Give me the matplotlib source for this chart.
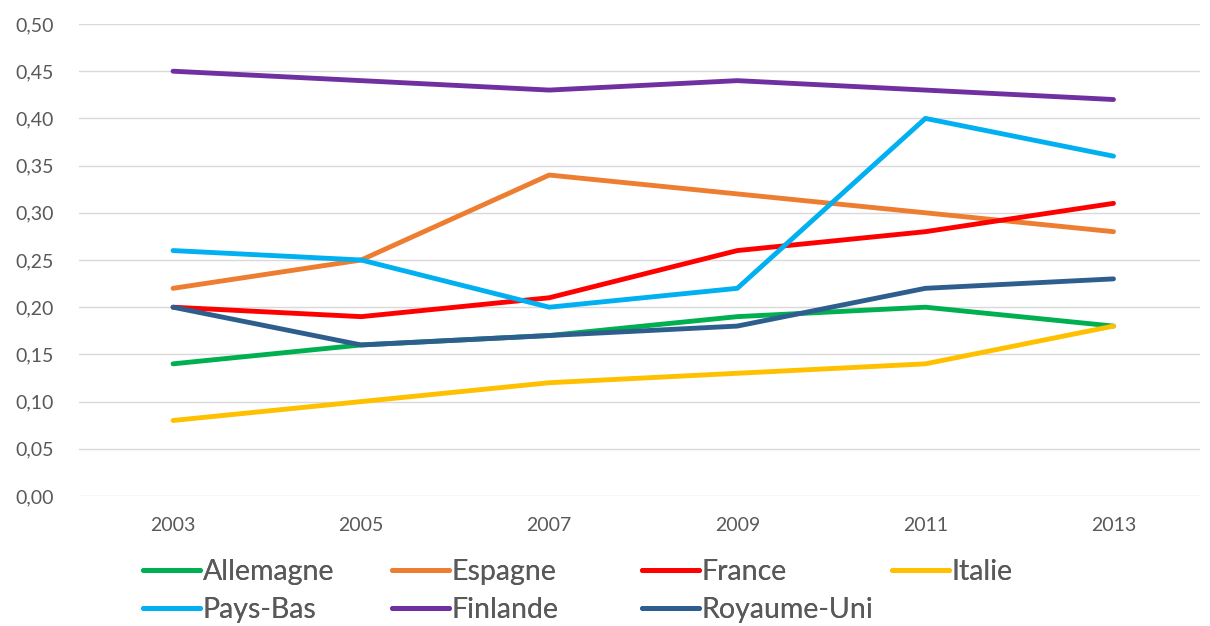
import matplotlib.pyplot as plt
import numpy as np

## Data
years = ['2003', '2005', '2007', '2009', '2011', '2013']

allemagne = [0.14, 0.16, 0.17, 0.19, 0.20, 0.18]
espagne = [0.22, 0.25, 0.34, 0.32, 0.30, 0.28]
france = [0.20, 0.19, 0.21, 0.26, 0.28, 0.31]
italie = [0.08, 0.10, 0.12, 0.13, 0.14, 0.18]
pays_bas = [0.26, 0.25, 0.20, 0.22, 0.40, 0.36]
finlande = [0.45, 0.44, 0.43, 0.44, 0.43, 0.42]
royaume_uni = [0.20, 0.16, 0.17, 0.18, 0.22, 0.23]

series = [
    ('Allemagne', allemagne, '#00B050'),
    ('Espagne', espagne, '#ED7D31'),
    ('France', france, '#FF0000'),
    ('Italie', italie, '#FFC000'),
    ('Pays-Bas', pays_bas, '#00B0F0'),
    ('Finlande', finlande, '#7030A0'),
    ('Royaume-Uni', royaume_uni, '#2E5E8E'),
]

plt.rcParams['font.family'] = ['Lato', 'DejaVu Sans']

W, H = 1210, 626
fig = plt.figure(figsize=(W / 100, H / 100), dpi=100)
ax = fig.add_axes([79 / W, 1 - 496 / H, (1200 - 79) / W, (496 - 24) / H])

x = np.arange(len(years))
lines = []
for name, vals, col in series:
    ln, = ax.plot(x, vals, color=col, linewidth=3.5, label=name, solid_capstyle='round')
    lines.append(ln)

yt = np.arange(0, 0.51, 0.05)
ax.set_xlim(-0.5, 5.46)
ax.set_ylim(0, 0.5)
ax.set_yticks(yt)
ax.set_yticklabels([('%.2f' % v).replace('.', ',') for v in yt])
ax.set_xticks(x)
ax.set_xticklabels(years)
ax.tick_params(axis='both', length=0, labelsize=14, colors='#595959')
ax.tick_params(axis='x', pad=15)
ax.tick_params(axis='y', pad=18)
ax.grid(axis='y', color='#D9D9D9', linewidth=1)
ax.set_axisbelow(True)
for s in ax.spines.values():
    s.set_visible(False)

## legend laid out like Excel: 4 equal columns, 2 rows
col_x = [143, 392, 642, 892]
row_y = [572, 610]
for i, ln in enumerate(lines):
    px = col_x[i % 4]
    py = row_y[i // 4]
    leg = fig.legend(handles=[ln], loc='center left', bbox_to_anchor=(px / W, 1 - py / H),
                     frameon=False, fontsize=20.5, handlelength=2.0, handletextpad=0.1,
                     borderpad=0, borderaxespad=0, labelcolor='#595959')
    fig.add_artist(leg)

fig.savefig('out.png', dpi=100)
